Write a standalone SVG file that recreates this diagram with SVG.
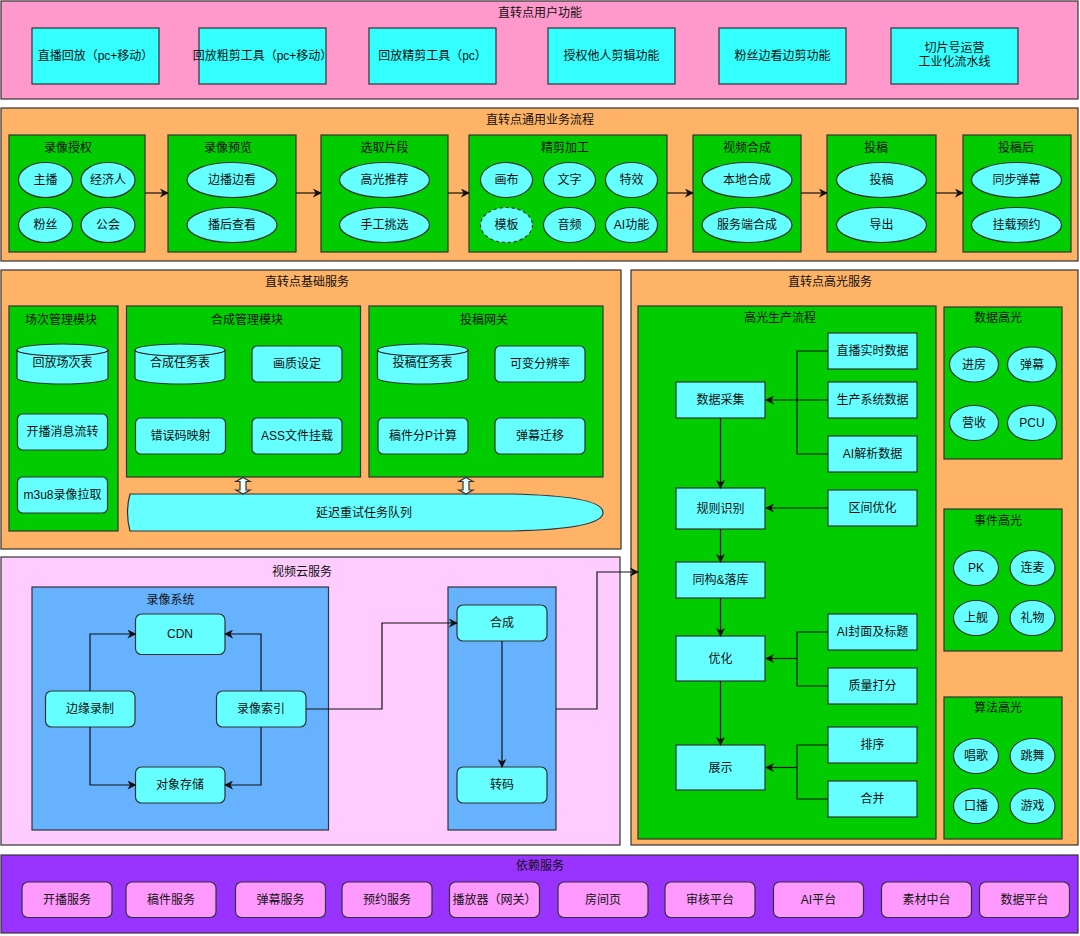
<svg xmlns="http://www.w3.org/2000/svg" width="1080" height="936" viewBox="0 0 1080 936">
<defs>
<style>
text{font-family:"Liberation Sans","Noto Sans CJK SC",sans-serif;font-size:12px;fill:#111;text-anchor:middle;dominant-baseline:central}
.sec{stroke:#333;stroke-width:1.2}
.s1{fill:#FF99CC}.s2{fill:#FFB366}.s5{fill:#FFCCFF}.s6{fill:#9933FF}
.grn{fill:#00CC00;stroke:#333;stroke-width:1.2}
.blu{fill:#66B2FF;stroke:#333;stroke-width:1.2}
.tb{fill:#33FFFF;stroke:#333;stroke-width:1.2}
.n{fill:#66FFFF;stroke:#333;stroke-width:1.2}
.dep{fill:#FF99FF;stroke:#333;stroke-width:1.2}
.dash{stroke-dasharray:3 3}
.c{fill:none;stroke:#111;stroke-width:1.2}
.ca{fill:none;stroke:#111;stroke-width:1.2;marker-end:url(#ah)}
.dbl{fill:#E6FFFF;stroke:#333;stroke-width:1.2}
</style>
<marker id="ah" viewBox="0 0 10 10" refX="9" refY="5" markerWidth="9" markerHeight="9" markerUnits="userSpaceOnUse" orient="auto">
<path d="M0,0 L10,5 L0,10 L3,5 Z" fill="#111"/>
</marker>
</defs>

<!-- Section 1 -->
<g id="sec-user">
<rect class="sec s1" x="1" y="1" width="1077" height="98"/>
<text x="540" y="13">直转点用户功能</text>
</g>
<g id="u1"><rect class="tb" x="32" y="28" width="127" height="56"/><text x="95.5" y="56">直播回放（pc+移动）</text></g>
<g id="u2"><rect class="tb" x="199" y="28" width="127" height="56"/><text x="262.5" y="56">回放粗剪工具（pc+移动）</text></g>
<g id="u3"><rect class="tb" x="369" y="28" width="127" height="56"/><text x="432.5" y="56">回放精剪工具（pc）</text></g>
<g id="u4"><rect class="tb" x="548" y="28" width="127" height="56"/><text x="611.5" y="56">授权他人剪辑功能</text></g>
<g id="u5"><rect class="tb" x="719" y="28" width="127" height="56"/><text x="782.5" y="56">粉丝边看边剪功能</text></g>
<g id="u6"><rect class="tb" x="891" y="28" width="127" height="56"/><text x="954.5" y="48">切片号运营</text><text x="954.5" y="62">工业化流水线</text></g>

<!-- Section 2 -->
<g id="sec-flow">
<rect class="sec s2" x="1" y="108" width="1077" height="153"/>
<text x="540" y="120">直转点通用业务流程</text>
</g>
<g id="f1">
<rect class="grn" x="9" y="135" width="136" height="117"/><text x="68" y="148">录像授权</text>
<ellipse class="n" cx="45.5" cy="180" rx="27" ry="17.5"/><text x="45.5" y="180">主播</text>
<ellipse class="n" cx="108" cy="180" rx="27" ry="17.5"/><text x="108" y="180">经济人</text>
<ellipse class="n" cx="45.5" cy="225" rx="27" ry="17.5"/><text x="45.5" y="225">粉丝</text>
<ellipse class="n" cx="108" cy="225" rx="27" ry="17.5"/><text x="108" y="225">公会</text>
</g>
<g id="f2">
<rect class="grn" x="168" y="135" width="128" height="117"/><text x="228" y="148">录像预览</text>
<ellipse class="n" cx="232" cy="180" rx="45" ry="17.5"/><text x="232" y="180">边播边看</text>
<ellipse class="n" cx="232" cy="225" rx="45" ry="17.5"/><text x="232" y="225">播后查看</text>
</g>
<g id="f3">
<rect class="grn" x="321" y="135" width="127" height="117"/><text x="384.5" y="148">选取片段</text>
<ellipse class="n" cx="384.5" cy="180" rx="45" ry="17.5"/><text x="384.5" y="180">高光推荐</text>
<ellipse class="n" cx="384.5" cy="225" rx="45" ry="17.5"/><text x="384.5" y="225">手工挑选</text>
</g>
<g id="f4">
<rect class="grn" x="469" y="135" width="198" height="117"/><text x="565" y="148">精剪加工</text>
<ellipse class="n" cx="506.5" cy="180" rx="26" ry="17.5"/><text x="506.5" y="180">画布</text>
<ellipse class="n" cx="569.5" cy="180" rx="26" ry="17.5"/><text x="569.5" y="180">文字</text>
<ellipse class="n" cx="631.5" cy="180" rx="26" ry="17.5"/><text x="631.5" y="180">特效</text>
<ellipse class="n dash" cx="506.5" cy="225" rx="26" ry="17.5"/><text x="506.5" y="225">模板</text>
<ellipse class="n" cx="569.5" cy="225" rx="26" ry="17.5"/><text x="569.5" y="225">音频</text>
<ellipse class="n" cx="631.5" cy="225" rx="26" ry="17.5"/><text x="631.5" y="225">AI功能</text>
</g>
<g id="f5">
<rect class="grn" x="693" y="135" width="108" height="117"/><text x="747" y="148">视频合成</text>
<ellipse class="n" cx="747" cy="180" rx="45" ry="17.5"/><text x="747" y="180">本地合成</text>
<ellipse class="n" cx="747" cy="225" rx="45" ry="17.5"/><text x="747" y="225">服务端合成</text>
</g>
<g id="f6">
<rect class="grn" x="827" y="135" width="109" height="117"/><text x="876" y="148">投稿</text>
<ellipse class="n" cx="881.5" cy="180" rx="45" ry="17.5"/><text x="881.5" y="180">投稿</text>
<ellipse class="n" cx="881.5" cy="225" rx="45" ry="17.5"/><text x="881.5" y="225">导出</text>
</g>
<g id="f7">
<rect class="grn" x="963" y="135" width="108" height="117"/><text x="1016" y="148">投稿后</text>
<ellipse class="n" cx="1016.5" cy="180" rx="45" ry="17.5"/><text x="1016.5" y="180">同步弹幕</text>
<ellipse class="n" cx="1016.5" cy="225" rx="45" ry="17.5"/><text x="1016.5" y="225">挂载预约</text>
</g>

<!-- Section 3 -->
<g id="sec-base">
<rect class="sec s2" x="1" y="270" width="620" height="279"/>
<text x="307" y="282">直转点基础服务</text>
</g>
<g id="m1">
<rect class="grn" x="9" y="306" width="109" height="225"/><text x="61" y="320">场次管理模块</text>
<g id="m1-db"><path class="n" d="M17,350 A45.5,6 0 0 1 108,350 V378 A45.5,6 0 0 1 17,378 Z"/><path class="c" d="M17,350 A45.5,6 0 0 0 108,350"/><text x="62.5" y="363">回放场次表</text></g>
<g id="m1-b"><rect class="n" x="17.5" y="414" width="90" height="36" rx="5"/><text x="62.5" y="432">开播消息流转</text></g>
<g id="m1-c"><rect class="n" x="17.5" y="477" width="90" height="36" rx="5"/><text x="62.5" y="495">m3u8录像拉取</text></g>
</g>
<g id="m2">
<rect class="grn" x="126.5" y="306" width="234" height="171"/><text x="247" y="320">合成管理模块</text>
<g id="m2-db"><path class="n" d="M135,350 A45,6 0 0 1 225,350 V378 A45,6 0 0 1 135,378 Z"/><path class="c" d="M135,350 A45,6 0 0 0 225,350"/><text x="180" y="363">合成任务表</text></g>
<g id="m2-b"><rect class="n" x="252" y="346" width="90" height="36" rx="5"/><text x="297" y="364">画质设定</text></g>
<g id="m2-c"><rect class="n" x="135.5" y="418" width="90" height="36" rx="5"/><text x="180.5" y="436">错误码映射</text></g>
<g id="m2-d"><rect class="n" x="252" y="418" width="90" height="36" rx="5"/><text x="297" y="436">ASS文件挂载</text></g>
</g>
<g id="m3">
<rect class="grn" x="369" y="306" width="234" height="171"/><text x="484" y="320">投稿网关</text>
<g id="m3-db"><path class="n" d="M377.5,350 A45.25,6 0 0 1 468,350 V378 A45.25,6 0 0 1 377.5,378 Z"/><path class="c" d="M377.5,350 A45.25,6 0 0 0 468,350"/><text x="422.5" y="363">投稿任务表</text></g>
<g id="m3-b"><rect class="n" x="495" y="346" width="90" height="36" rx="5"/><text x="540" y="364">可变分辨率</text></g>
<g id="m3-c"><rect class="n" x="378" y="418" width="90" height="36" rx="5"/><text x="423" y="436">稿件分P计算</text></g>
<g id="m3-d"><rect class="n" x="495" y="418" width="90" height="36" rx="5"/><text x="540" y="436">弹幕迁移</text></g>
</g>
<g id="queue">
<path class="n" d="M130,494 H512 Q603,496 603,512.5 Q603,529 512,531 H130 Q125,512.5 130,494 Z"/>
<text x="364" y="512.5">延迟重试任务队列</text>
</g>

<!-- Section 4 -->
<g id="sec-hl">
<rect class="sec s2" x="631" y="270" width="447" height="575"/>
<text x="830" y="282">直转点高光服务</text>
</g>
<g id="hlflow">
<rect class="grn" x="638" y="306" width="298" height="533"/><text x="780" y="318">高光生产流程</text>
</g>
<g id="h-collect"><rect class="n" x="676" y="382" width="89" height="36"/><text x="720.5" y="400">数据采集</text></g>
<g id="h-rule"><rect class="n" x="676" y="488" width="89" height="41"/><text x="720.5" y="508.5">规则识别</text></g>
<g id="h-store"><rect class="n" x="676" y="562" width="89" height="36"/><text x="720.5" y="580">同构&amp;落库</text></g>
<g id="h-opt"><rect class="n" x="676" y="636" width="89" height="45"/><text x="720.5" y="658.5">优化</text></g>
<g id="h-show"><rect class="n" x="676" y="745" width="89" height="45"/><text x="720.5" y="767.5">展示</text></g>
<g id="h-live"><rect class="n" x="828" y="333" width="89" height="36"/><text x="872.5" y="351">直播实时数据</text></g>
<g id="h-prod"><rect class="n" x="828" y="382" width="89" height="36"/><text x="872.5" y="400">生产系统数据</text></g>
<g id="h-ai"><rect class="n" x="828" y="436" width="89" height="36"/><text x="872.5" y="454">AI解析数据</text></g>
<g id="h-range"><rect class="n" x="828" y="490" width="89" height="36"/><text x="872.5" y="508">区间优化</text></g>
<g id="h-cover"><rect class="n" x="828" y="614" width="89" height="36"/><text x="872.5" y="632">AI封面及标题</text></g>
<g id="h-score"><rect class="n" x="828" y="668" width="89" height="36"/><text x="872.5" y="686">质量打分</text></g>
<g id="h-sort"><rect class="n" x="828" y="727" width="89" height="36"/><text x="872.5" y="745">排序</text></g>
<g id="h-merge"><rect class="n" x="828" y="781" width="89" height="36"/><text x="872.5" y="799">合并</text></g>
<g id="hl-data">
<rect class="grn" x="944" y="307" width="118" height="152"/><text x="998" y="318">数据高光</text>
<ellipse class="n" cx="974" cy="364.5" rx="24.5" ry="17.5"/><text x="974" y="364.5">进房</text>
<ellipse class="n" cx="1032" cy="364.5" rx="24.5" ry="17.5"/><text x="1032" y="364.5">弹幕</text>
<ellipse class="n" cx="974" cy="423" rx="24.5" ry="17.5"/><text x="974" y="423">营收</text>
<ellipse class="n" cx="1032" cy="423" rx="24.5" ry="17.5"/><text x="1032" y="423">PCU</text>
</g>
<g id="hl-event">
<rect class="grn" x="944" y="509" width="118" height="142"/><text x="998" y="521">事件高光</text>
<ellipse class="n" cx="976" cy="568" rx="22.5" ry="17.5"/><text x="976" y="568">PK</text>
<ellipse class="n" cx="1032.5" cy="568" rx="22.5" ry="17.5"/><text x="1032.5" y="568">连麦</text>
<ellipse class="n" cx="976" cy="618" rx="22.5" ry="17.5"/><text x="976" y="618">上舰</text>
<ellipse class="n" cx="1032.5" cy="618" rx="22.5" ry="17.5"/><text x="1032.5" y="618">礼物</text>
</g>
<g id="hl-algo">
<rect class="grn" x="944" y="697" width="118" height="142"/><text x="998" y="708">算法高光</text>
<ellipse class="n" cx="976" cy="756" rx="22.5" ry="17.5"/><text x="976" y="756">唱歌</text>
<ellipse class="n" cx="1032.5" cy="756" rx="22.5" ry="17.5"/><text x="1032.5" y="756">跳舞</text>
<ellipse class="n" cx="976" cy="806" rx="22.5" ry="17.5"/><text x="976" y="806">口播</text>
<ellipse class="n" cx="1032.5" cy="806" rx="22.5" ry="17.5"/><text x="1032.5" y="806">游戏</text>
</g>

<!-- Section 5 -->
<g id="sec-cloud">
<rect class="sec s5" x="1" y="557" width="619" height="288"/>
<text x="302" y="572">视频云服务</text>
</g>
<g id="rec-sys"><rect class="blu" x="32" y="587" width="296.5" height="243"/><text x="170.5" y="600">录像系统</text></g>
<g id="v-cdn"><rect class="n" x="135.5" y="614" width="89.5" height="40.5" rx="6"/><text x="180" y="634">CDN</text></g>
<g id="v-edge"><rect class="n" x="45.5" y="691" width="89.5" height="36" rx="6"/><text x="90" y="709">边缘录制</text></g>
<g id="v-index"><rect class="n" x="216.5" y="691" width="89.5" height="36" rx="6"/><text x="261" y="709">录像索引</text></g>
<g id="v-obj"><rect class="n" x="135.5" y="767" width="89.5" height="36" rx="6"/><text x="180" y="785">对象存储</text></g>
<g id="proc-sys"><rect class="blu" x="448" y="587" width="108" height="243"/></g>
<g id="v-comp"><rect class="n" x="457" y="605" width="90" height="36" rx="6"/><text x="502" y="623">合成</text></g>
<g id="v-trans"><rect class="n" x="457" y="767" width="90" height="36" rx="6"/><text x="502" y="785">转码</text></g>

<!-- Section 6 -->
<g id="sec-dep">
<rect class="sec s6" x="1" y="855" width="1077" height="78"/>
<text x="540" y="866">依赖服务</text>
</g>
<g id="d1"><rect class="dep" x="22" y="882" width="90" height="35.5" rx="6"/><text x="67" y="899.5">开播服务</text></g>
<g id="d2"><rect class="dep" x="126" y="882" width="90" height="35.5" rx="6"/><text x="171" y="899.5">稿件服务</text></g>
<g id="d3"><rect class="dep" x="235.5" y="882" width="90" height="35.5" rx="6"/><text x="280.5" y="899.5">弹幕服务</text></g>
<g id="d4"><rect class="dep" x="342" y="882" width="90" height="35.5" rx="6"/><text x="387" y="899.5">预约服务</text></g>
<g id="d5"><rect class="dep" x="449.5" y="882" width="90" height="35.5" rx="6"/><text x="494.5" y="899.5">播放器（网关）</text></g>
<g id="d6"><rect class="dep" x="558" y="882" width="90" height="35.5" rx="6"/><text x="603" y="899.5">房间页</text></g>
<g id="d7"><rect class="dep" x="665" y="882" width="90" height="35.5" rx="6"/><text x="710" y="899.5">审核平台</text></g>
<g id="d8"><rect class="dep" x="773.5" y="882" width="90" height="35.5" rx="6"/><text x="818.5" y="899.5">AI平台</text></g>
<g id="d9"><rect class="dep" x="881.5" y="882" width="90" height="35.5" rx="6"/><text x="926.5" y="899.5">素材中台</text></g>
<g id="d10"><rect class="dep" x="979.5" y="882" width="90" height="35.5" rx="6"/><text x="1024.5" y="899.5">数据平台</text></g>

<!-- Connectors -->
<g id="connectors">
<path class="ca" d="M145,193 H168"/>
<path class="ca" d="M296,193 H321"/>
<path class="ca" d="M448,193 H469"/>
<path class="ca" d="M667,193 H693"/>
<path class="ca" d="M801,193 H827"/>
<path class="ca" d="M936,193 H963"/>

<path class="dbl" d="M243,477.5 L250,481.5 L246,481.5 L246,490 L250,490 L243,494 L236,490 L240,490 L240,481.5 L236,481.5 Z"/>
<path class="dbl" d="M466,477.5 L473,481.5 L469,481.5 L469,490 L473,490 L466,494 L459,490 L463,490 L463,481.5 L459,481.5 Z"/>

<path class="c" d="M828,351 H797 V454 H828"/>
<path class="ca" d="M828,400 H766"/>
<path class="ca" d="M720.5,418 V488"/>
<path class="ca" d="M828,508 H766"/>
<path class="ca" d="M720.5,529 V562"/>
<path class="ca" d="M720.5,598 V636"/>
<path class="c" d="M828,632 H797 V686 H828"/>
<path class="ca" d="M797,658.5 H766"/>
<path class="ca" d="M720.5,681 V745"/>
<path class="c" d="M828,745 H797 V799 H828"/>
<path class="ca" d="M797,767.5 H766"/>

<path class="ca" d="M90,691 V634 H135.5"/>
<path class="ca" d="M90,727 V785 H135.5"/>
<path class="ca" d="M261,691 V634 H225"/>
<path class="ca" d="M261,727 V785 H225"/>
<path class="ca" d="M306,709 H382 V623 H457"/>
<path class="ca" d="M502,641 V767"/>
<path class="ca" d="M556,709 H597 V572 H638"/>
</g>
</svg>
